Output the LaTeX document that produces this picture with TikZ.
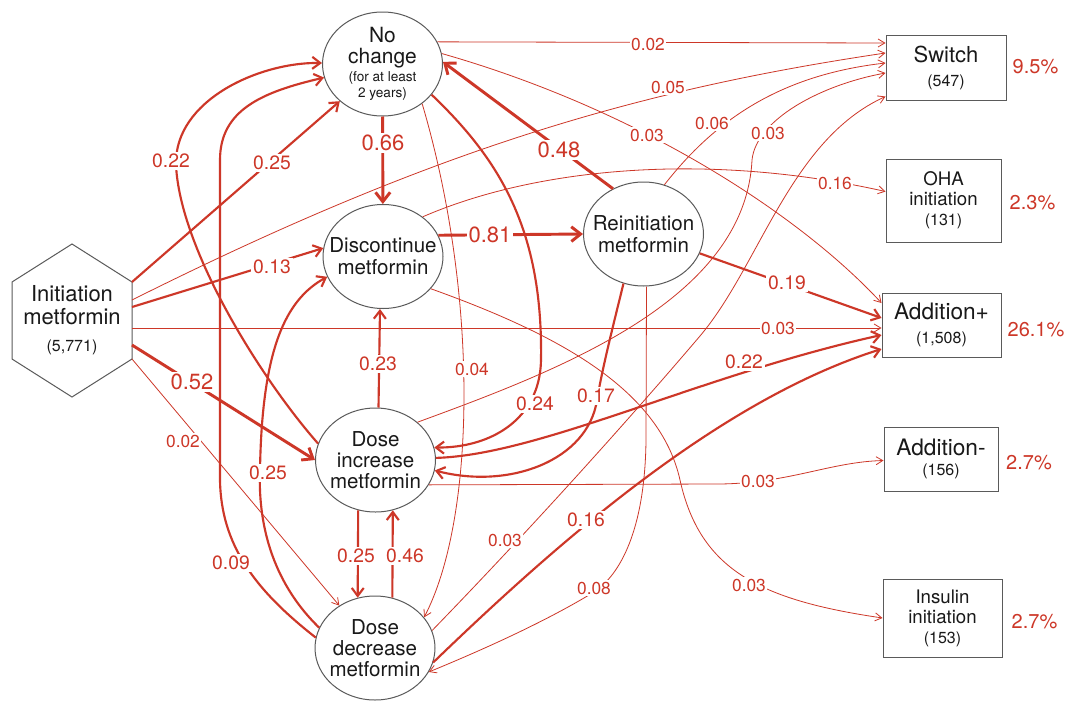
\documentclass[tikz,border=0pt]{standalone}
\usepackage{fontspec}
\setmainfont{TeX Gyre Heros}
\usetikzlibrary{shapes.geometric,arrows.meta,calc}
\definecolor{ered}{RGB}{205,55,40}
\definecolor{ngray}{RGB}{90,90,90}
\definecolor{ntext}{RGB}{25,25,25}
\newcommand{\smalltxt}[1]{{\fontsize{12}{14}\selectfont #1}}
\newcommand{\tinytxt}[1]{{\fontsize{10.2}{12}\selectfont #1}}
\tikzset{
  stnode/.style={ellipse, draw=ngray, line width=0.75pt, minimum width=90pt, minimum height=78pt,
    inner xsep=-15pt, inner ysep=-12pt, align=center, text=ntext},
  boxnode/.style={rectangle, draw=ngray, line width=0.75pt, inner sep=0pt, align=center, text=ntext},
  initnode/.style={rectangle, draw=none, minimum width=90pt, minimum height=57pt, inner sep=0pt, align=center, text=ntext},
  pct/.style={text=ered, inner sep=0pt, font=\fontsize{15}{18}\selectfont},
  ethick/.style={draw=ered, line width=2.2pt, -{Straight Barb[length=7pt,width=11pt]}},
  emed/.style={draw=ered, line width=1.6pt, -{Straight Barb[length=6pt,width=9pt]}},
  ethin/.style={draw=ered, line width=0.6pt, -{Straight Barb[length=5pt,width=6pt]}},
  lbig/.style={text=ered, fill=white, inner sep=1.5pt, font=\fontsize{16.5}{18}\selectfont},
  lmed/.style={text=ered, fill=white, inner sep=1.5pt, font=\fontsize{14.5}{16}\selectfont},
  lsml/.style={text=ered, fill=white, inner sep=1.2pt, font=\fontsize{13}{15}\selectfont},
}
\begin{document}
\begin{tikzpicture}[x=0.75pt,y=-0.75pt]
\useasboundingbox (0,0) rectangle (1067,700);
\fill[white] (0,0) rectangle (1067,700);

% ---------- nodes ----------
\node[initnode, font=\fontsize{16.5}{17.25}\selectfont] (init) at (72,320.5)
  {Initiation\\metformin\\[3pt]\smalltxt{(5,771)}};
\draw[ngray, line width=0.75pt]
  ($(init)+(0,-76.5)$) -- ($(init)+(60,-38.5)$) -- ($(init)+(60,38.5)$) --
  ($(init)+(0,76.5)$) -- ($(init)+(-60,38.5)$) -- ($(init)+(-60,-38.5)$) -- cycle;

\node[stnode, font=\fontsize{15.7}{15.75}\selectfont] (nc) at (382.5,64)
  {No\\change\\[-2.5pt]\tinytxt{(for at least}\\[-4pt]\tinytxt{2 years)}};
\node[stnode, font=\fontsize{15.4}{16.5}\selectfont] (disc) at (383,256.5)
  {Discontinue\\metformin};
\node[stnode, font=\fontsize{15.4}{16.5}\selectfont] (re) at (643.5,234)
  {Reinitiation\\metformin};
\node[stnode, font=\fontsize{15.4}{15.5}\selectfont] (di) at (375.5,460)
  {Dose\\increase\\metformin};
\node[stnode, font=\fontsize{15.4}{15.5}\selectfont] (dd) at (375,648)
  {Dose\\decrease\\metformin};

\node[boxnode, minimum width=90pt, minimum height=48.75pt, font=\fontsize{16.5}{18}\selectfont] (sw) at (946,67.5)
  {Switch\\\smalltxt{(547)}};
\node[boxnode, minimum width=86.25pt, minimum height=62.25pt, font=\fontsize{14}{15}\selectfont] (oha) at (943.5,200.5)
  {OHA\\initiation\\\smalltxt{(131)}};
\node[boxnode, minimum width=89.25pt, minimum height=48pt, font=\fontsize{17}{17.5}\selectfont] (addp) at (941.5,325)
  {Addition+\\\smalltxt{(1,508)}};
\node[boxnode, minimum width=85.5pt, minimum height=48pt, font=\fontsize{17}{15}\selectfont] (addm) at (941,459)
  {Addition-\\\smalltxt{(156)}};
\node[boxnode, minimum width=89.25pt, minimum height=58.5pt, font=\fontsize{14}{15}\selectfont] (ins) at (942.5,618)
  {Insulin\\initiation\\\smalltxt{(153)}};

\node[pct] (p1) at (1035.5,67) {9.5\%};
\node[pct] (p2) at (1032.5,203) {2.3\%};
\node[pct] (p3) at (1036,330) {26.1\%};
\node[pct] (p4) at (1029,463) {2.7\%};
\node[pct] (p5) at (1034.5,622) {2.7\%};

% ---------- thin connectors ----------
\draw[ethin] (nc.22) -- ($(sw.west)+(0,-24.5)$);
\draw[ethin] ($(init)+(60,-20.5)$) .. controls (432,150) and (636,90) .. ($(sw.west)+(0,-14.5)$);
\draw[ethin] (nc.10) .. controls (640,110) and (800,215) .. ($(addp.west)+(0,-22)$);
\draw[ethin] (re.67) .. controls (715,120) and (780,75) .. ($(sw.west)+(0,-4.5)$);
\draw[ethin] (di.42) .. controls (560,370) and (745,300) .. (752,160) .. controls (756,120) and (820,85) .. ($(sw.west)+(0,5.5)$);
\draw[ethin] (dd.17) .. controls (520,540) and (620,430) .. (700,336) .. controls (760,265) and (790,140) .. ($(sw.west)+(0,29)$);
\draw[ethin] (disc.45) .. controls (530,170) and (700,150) .. ($(oha.west)+(0,-9)$);
\draw[ethin] ($(init)+(60,7.5)$) -- ($(addp.west)+(0,3)$);
\draw[ethin] (nc.-45) .. controls (480,300) and (475,520) .. (dd.32);
\draw[ethin] ($(init)+(60,38.5)$) -- (dd);
\draw[ethin] (di.-25) -- (720,484) .. controls (790,483) and (830,462) .. ($(addm.west)+(0,1.5)$);
\draw[ethin] ($(re.south)+(3,0)$) -- (646,440) .. controls (645,530) and (620,575) .. (594,592) .. controls (540,625) and (470,655) .. (dd.-24);
\draw[ethin] (disc.-34) .. controls (560,335) and (660,390) .. (680,480) .. controls (700,570) and (760,600) .. (ins.west);

% ---------- medium connectors ----------
\draw[emed] ($(init)+(60,-38.5)$) -- (nc);
\draw[emed] (di.164) .. controls (262,380) and (180,250) .. (176,165) .. controls (174,100) and (260,62) .. (nc);
\draw[emed] (dd.170) .. controls (255,590) and (221,545) .. (220,480) -- (220,160) .. controls (220,110) and (262,92) .. (nc);
\draw[emed] ($(init)+(60,-13.5)$) -- (disc.172);
\draw[emed] (dd.160) .. controls (270,580) and (258,520) .. (260,470) .. controls (262,350) and (285,300) .. (disc.200);
\draw[emed] ($(di.north)+(3,0)$) -- ($(disc.south)+(-3,0)$);
\draw[emed] (nc.-32) .. controls (500,160) and (543,230) .. (541,360) .. controls (540,420) and (490,448) .. (di.12);
\draw[emed] (re.-112) .. controls (612,330) and (602,370) .. (597,400) .. controls (588,460) and (510,490) .. (di.-10);
\draw[emed] (re.-19) -- ($(addp.west)+(0,-7)$);
\draw[emed] (di.2) .. controls (540,455) and (700,375) .. ($(addp.west)+(0,10)$);
\draw[emed] (dd.-14) .. controls (560,540) and (720,400) .. ($(addp.west)+(0,24)$);
\draw[emed] (di.-109) -- (dd.109);
\draw[emed] (dd.71) -- (di.-71);

% ---------- thick connectors ----------
\draw[ethick] (nc) -- (disc);
\draw[ethick] (disc.21) -- (re.west);
\draw[ethick] (re.124) -- (nc.2);
\draw[ethick] ($(init)+(60,24.5)$) -- (di.west);

% ---------- labels ----------
\node[lbig] (l01) at (383,143) {0.66};
\node[lbig] (l02) at (490,235) {0.81};
\node[lbig] (l03) at (559,150) {0.48};
\node[lbig] (l04) at (192,382) {0.52};

\node[lmed] (l05) at (272,163) {0.25};
\node[lmed] (l06) at (171,161) {0.22};
\node[lmed] (l07) at (231,563) {0.09};
\node[lmed] (l08) at (272,267) {0.13};
\node[lmed] (l09) at (268,473) {0.25};
\node[lmed] (l10) at (378,364) {0.23};
\node[lmed] (l11) at (535,404) {0.24};
\node[lmed] (l12) at (596,396) {0.17};
\node[lmed] (l13) at (787,283) {0.19};
\node[lmed] (l14) at (744,362) {0.22};
\node[lmed] (l15) at (586,520) {0.16};
\node[lmed] (l16) at (356,556) {0.25};
\node[lmed] (l17) at (405,556) {0.46};

\node[lsml] (l18) at (648,44) {0.02};
\node[lsml] (l19) at (668,87) {0.05};
\node[lsml] (l20) at (647,135) {0.03};
\node[lsml] (l21) at (712,123) {0.06};
\node[lsml] (l22) at (768,133) {0.03};
\node[lsml] (l23) at (505,540) {0.03};
\node[lsml] (l24) at (835,183) {0.16};
\node[lsml] (l25) at (778,328) {0.03};
\node[lsml] (l26) at (472,369) {0.04};
\node[lsml] (l27) at (183,441) {0.02};
\node[lsml] (l28) at (758,481) {0.03};
\node[lsml] (l29) at (594,588) {0.08};
\node[lsml] (l30) at (749,585) {0.03};
\end{tikzpicture}
\end{document}
